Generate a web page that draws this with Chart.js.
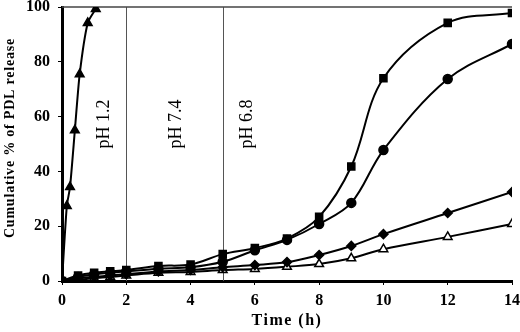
<!DOCTYPE html>
<html><head><meta charset="utf-8">
<script src="https://cdn.jsdelivr.net/npm/chart.js@4/dist/chart.umd.min.js"></script>
<style>html,body{margin:0;padding:0;background:#fff}#w{width:520px;height:332px}</style>
</head><body><div id="w"><canvas id="c"></canvas></div>
<script>
const timeAcid = [0, 0.15, 0.25, 0.4, 0.55, 0.8, 1.05];
const releaseAcid = [0, 27.4, 34.3, 55, 75.5, 94.2, 99.3];
const timeMain = [0, 0.5, 1, 1.5, 2, 3, 4, 5, 6, 7, 8, 9, 10, 12, 14];
const releaseSquare = [0, 2, 3, 3.5, 4, 5.5, 6, 9.8, 12, 15.5, 23.4, 41.8, 74, 94.2, 97.8];
const releaseCircle = [0, 1.5, 2.5, 3, 3.5, 4.5, 5, 7, 11.2, 15, 20.8, 28.5, 47.8, 73.7, 86.5];
const releaseDiamond = [0, 1, 1.5, 2, 2.5, 3.5, 4, 5, 5.8, 6.9, 9.5, 12.8, 17.1, 24.8, 32.5];
const releaseOpen = [0, 0.5, 1, 1.5, 2, 3, 3.3, 4, 4.4, 5.2, 6.2, 8.3, 11.6, 16.1, 20.8];
const xTicks = [0, 2, 4, 6, 8, 10, 12, 14];
const yTicks = [0, 20, 40, 60, 80, 100];
const phBoundaries = [2, 5];
const phLabels = [{x: 1.31, text: 'pH 1.2'}, {x: 3.55, text: 'pH 7.4'}, {x: 5.76, text: 'pH 6.8'}];

const pts = (xs, ys) => xs.map((x, i) => ({x, y: ys[i]}));
const FONT = '"Liberation Serif", "Times New Roman", serif';

const base = {borderColor: '#000', backgroundColor: '#000', borderWidth: 2, tension: 0.35, pointBorderColor: '#000', pointBorderWidth: 1.5, fill: false};

const overlay = {
  id: 'overlay',
  beforeDatasetsDraw(chart) {
    const {ctx, chartArea: a, scales: {x, y}} = chart;
    ctx.save();
    ctx.strokeStyle = '#555'; ctx.lineWidth = 1;
    phBoundaries.forEach(v => { const px = Math.round(x.getPixelForValue(v)) + 0.5; ctx.beginPath(); ctx.moveTo(px, a.top); ctx.lineTo(px, a.bottom); ctx.stroke(); });
    ctx.strokeStyle = '#444'; ctx.lineWidth = 1.5;
    ctx.beginPath(); ctx.moveTo(a.left, a.top); ctx.lineTo(a.right, a.top); ctx.stroke();
    ctx.fillStyle = '#000'; ctx.font = '18px ' + FONT; ctx.textAlign = 'center'; ctx.textBaseline = 'middle';
    phLabels.forEach(l => { ctx.save(); ctx.translate(x.getPixelForValue(l.x), y.getPixelForValue(57.3)); ctx.rotate(-Math.PI / 2); ctx.fillText(l.text, 0, 0); ctx.restore(); });
    ctx.restore();
  },
  afterDraw(chart) {
    const {ctx, chartArea: a} = chart;
    ctx.save();
    ctx.fillStyle = '#000'; ctx.font = 'bold 14px ' + FONT; ctx.textAlign = 'center'; ctx.textBaseline = 'middle';
    try { ctx.letterSpacing = '0.8px'; } catch (e) {}
    ctx.translate(10, (a.top + a.bottom) / 2 - 6); ctx.rotate(-Math.PI / 2);
    ctx.fillText('Cumulative % of PDL release', 0, 0);
    ctx.restore();
    ctx.save();
    ctx.fillStyle = '#000'; ctx.font = 'bold 16px ' + FONT; ctx.textAlign = 'center'; ctx.textBaseline = 'middle';
    try { ctx.letterSpacing = '1.5px'; } catch (e) {}
    ctx.fillText('Time (h)', (a.left + a.right) / 2, 321);
    ctx.restore();
  }
};

new Chart(document.getElementById('c'), {
  type: 'line',
  data: {datasets: [
    {...base, data: pts(timeAcid, releaseAcid), pointStyle: 'triangle', pointRadius: 5, tension: 0.2},
    {...base, data: pts(timeMain, releaseSquare), pointStyle: 'rect', pointRadius: 5},
    {...base, data: pts(timeMain, releaseCircle), pointStyle: 'circle', pointRadius: 4.5},
    {...base, data: pts(timeMain, releaseDiamond), pointStyle: 'rectRot', pointRadius: 4.5},
    {...base, data: pts(timeMain, releaseOpen), pointStyle: 'triangle', pointRadius: 5, pointBackgroundColor: '#fff', backgroundColor: '#fff'}
  ]},
  options: {
    responsive: true, maintainAspectRatio: false, animation: false,
    layout: {padding: {top: 7, right: 8, left: 0, bottom: 0}},
    plugins: {legend: {display: false}, tooltip: {enabled: false}},
    scales: {
      x: {type: 'linear', min: 0, max: 14,
        afterBuildTicks: s => { s.ticks = xTicks.map(v => ({value: v})); },
        afterFit: s => { s.height = 51; s.paddingLeft = 0; s.paddingRight = 0; },
        grid: {drawOnChartArea: false, drawTicks: true, tickLength: 4, color: '#000'},
        border: {display: true, color: '#000', width: 3},
        ticks: {color: '#000', font: {family: FONT, size: 16, weight: 'bold'}, padding: 6, maxRotation: 0}},
      y: {min: 0, max: 100,
        afterBuildTicks: s => { s.ticks = yTicks.map(v => ({value: v})); },
        afterFit: s => { s.width = 62; s.paddingTop = 0; s.paddingBottom = 0; },
        grid: {drawOnChartArea: false, drawTicks: true, tickLength: 4, color: '#000'},
        border: {display: true, color: '#000', width: 3},
        ticks: {color: '#000', font: {family: FONT, size: 16, weight: 'bold'}, padding: 8}}
    }
  },
  plugins: [overlay]
});
</script></body></html>
